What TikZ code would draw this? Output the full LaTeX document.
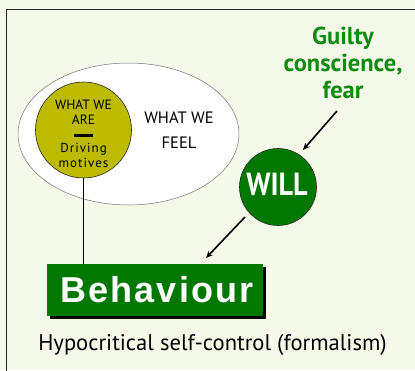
\documentclass[tikz,border=0pt]{standalone}
\usepackage{fontspec}
\usetikzlibrary{arrows.meta,shapes.geometric}
\setmainfont{PT Sans}
\newfontfamily\behfont{Liberation Sans}
\definecolor{bgc}{HTML}{F5F9EA}
\definecolor{olivec}{HTML}{BDBA00}
\definecolor{darkg}{HTML}{007800}
\definecolor{textg}{HTML}{108A10}
\begin{document}
\begin{tikzpicture}[x=1pt,y=-1pt,
  arr/.style={draw=black,line width=1.6pt,-{Stealth[length=7pt,width=6pt]}},
  lbl/.style={inner sep=0pt,align=center}]
\fill[bgc] (0,0) rectangle (415,370);
\useasboundingbox (0,0) rectangle (415,370);
% frame
\draw[line width=0.9pt,black!85] (6.8,372) -- (6.8,9.6) -- (417,9.6);
% ellipse
\node[draw=black!55,fill=white,ellipse,minimum width=221pt,minimum height=142pt,inner sep=0pt,line width=0.5pt] (feel) at (128.5,134) {};
\node[lbl,font=\fontsize{16.5}{25}\selectfont] (feeltxt) at (179,130.5) {WHAT WE\\FEEL};
% olive circle
\node[draw=black!85,fill=olivec,circle,minimum size=96pt,inner sep=0pt,line width=0.6pt] (are) at (83.5,130) {};
\node[lbl,font=\fontsize{13.5}{15}\selectfont] (aretxt) at (83.5,112) {WHAT WE\\ARE};
\node[fill=black,minimum width=19pt,minimum height=3pt,inner sep=0pt] (bar) at (83,135) {};
\node[lbl,font=\fontsize{13}{15}\selectfont\addfontfeature{LetterSpace=8}] (drv) at (83.5,155) {Driving\\motives};
% behaviour
\fill[black] (50,267) rectangle (266,319);
\node[fill=darkg,minimum width=216pt,minimum height=52pt,inner sep=0pt,anchor=north west] (beh) at (47,264) {};
\node[text=white,font=\behfont\bfseries\fontsize{36}{36}\selectfont\addfontfeature{LetterSpace=6}] (behtxt) at (157,290) {Behaviour};
% line
\draw[black,line width=0.6pt] (are.south) -- (are.south |- beh.north);
% will
\node[draw=black!85,fill=darkg,circle,minimum size=77pt,inner sep=0pt,line width=0.6pt] (will) at (278,187) {};
\node[text=white,font=\bfseries\fontsize{32}{32}\selectfont,xscale=0.88] (willtxt) at (277,184) {WILL};
% guilty
\node[lbl,text=textg,font=\bfseries\fontsize{24.5}{27}\selectfont] (guilty) at (343,63) {Guilty\\conscience,\\fear};
\coordinate (a1s) at (337,111);
\coordinate (a1e) at (303,150);
\draw[arr] (a1s) -- (a1e);
\coordinate (a2s) at (245,217);
\coordinate (a2e) at (206,258);
\draw[arr] (a2s) -- (a2e);
% caption
\node[inner sep=0pt,font=\fontsize{22.6}{22}\selectfont] (cap) at (212.5,345) {Hypocritical self-control (formalism)};
\end{tikzpicture}
\end{document}
